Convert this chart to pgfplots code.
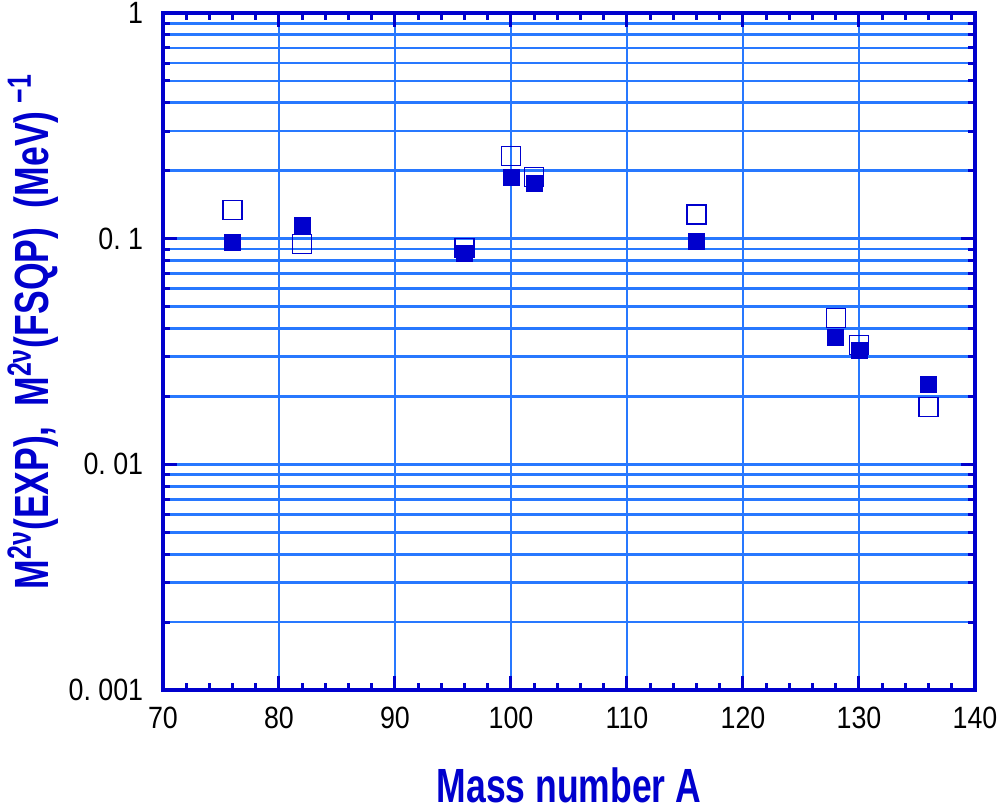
\documentclass[border=0pt]{standalone}
\usepackage{fontspec}
\setmainfont{Liberation Sans}
\newfontfamily\tickfont[FakeStretch=0.87]{Liberation Sans}
\newfontfamily\labfont[FakeStretch=0.74]{Liberation Sans}
\usepackage{pgfplots}
\pgfplotsset{compat=1.18}
\definecolor{dblue}{RGB}{0,0,205}
\definecolor{gblue}{RGB}{40,120,255}
\begin{document}
\begin{tikzpicture}
\useasboundingbox (-81.5pt,-60.5pt) rectangle (419pt,345pt);
\begin{axis}[
  at={(0,0)}, anchor=south west,
  scale only axis, width=406pt, height=338.5pt,
  xmin=70, xmax=140, ymode=log, ymin=0.001, ymax=1,
  xtick={70,80,90,100,110,120,130,140},
  xticklabels={70,80,90,100,110,120,130,140},
  minor x tick num=4,
  ytick={0.001,0.01,0.1,1},
  yticklabels={0.\ 001,0.\ 01,0.\ 1,1},
  xticklabel style={font=\tickfont\fontsize{15.4}{15.4}\selectfont, text=black, yshift=-4.9pt},
  yticklabel style={font=\tickfont\fontsize{15.4}{15.4}\selectfont, text=black, xshift=-6.4pt},
  tick align=inside,
  major tick length=7pt, minor tick length=3.5pt,
  every tick/.style={dblue, line width=1.5pt},
  axis line style={dblue, line width=2pt},
  xmajorgrids, ymajorgrids, yminorgrids,
  major grid style={gblue, line width=1.4pt},
  minor grid style={gblue, line width=1.4pt},
  xlabel={Mass number A},
  ylabel={M\textsuperscript{2ν}(EXP),\ \ M\textsuperscript{2ν}(FSQP)\ \ (MeV)\,\textsuperscript{−1}},
  xlabel style={font=\labfont\bfseries\fontsize{24}{24}\selectfont, text=dblue, at={(axis description cs:0.5,-0.1403)}, anchor=center},
  ylabel style={font=\labfont\bfseries\fontsize{24}{24}\selectfont, text=dblue, at={(axis description cs:-0.160,0.5295)}, anchor=center},
]
\addplot[only marks, mark=square, mark size=4.75pt, mark options={dblue, line width=0.65pt}] coordinates {
 (76,0.134) (82,0.0948) (96,0.091) (100,0.232) (102,0.188) (116,0.128) (128,0.0445) (130,0.0338) (136,0.0180)
};
\addplot[only marks, mark=square*, mark size=4pt, mark options={draw=dblue, fill=dblue}] coordinates {
 (76,0.0966) (82,0.115) (96,0.0864) (100,0.186) (102,0.175) (116,0.0975) (128,0.0367) (130,0.0321) (136,0.0227)
};
\end{axis}
\end{tikzpicture}
\end{document}
